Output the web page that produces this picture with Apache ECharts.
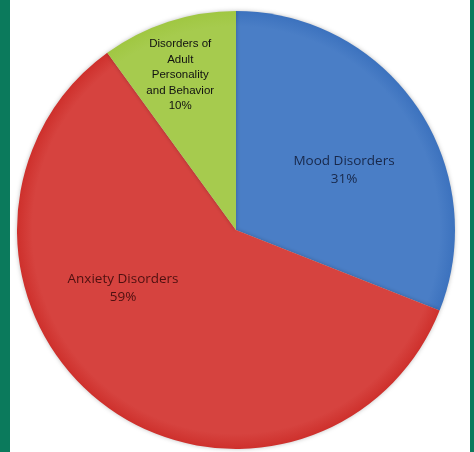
<!DOCTYPE html>
<html>
<head>
<meta charset="utf-8">
<script src="https://cdn.jsdelivr.net/npm/echarts@6/dist/echarts.min.js"></script>
<style>
  html, body { margin: 0; padding: 0; background: #0b7a5c; }
  #wrap { position: absolute; left: 10px; top: 0; width: 460px; height: 452px; background: #ffffff; }
  #chart { width: 460px; height: 452px; }
</style>
</head>
<body>
<div id="wrap"><div id="chart"></div></div>
<script>
const categories = ['Mood Disorders', 'Anxiety Disorders', 'Disorders of\nAdult\nPersonality\nand Behavior'];
const values = [31, 59, 10];
const colors = ['#4a7ec6', '#d6433f', '#a6cb4e'];
const labelColors = ['#18284a', '#4e1010', '#111111'];

const chart = echarts.init(document.getElementById('chart'), null, { renderer: 'canvas' });

const labelShift = [[15, 3], [-44, -31], [-21, -48]];
const CX = 226, CY = 230, R = 219;

const data = categories.map((name, i) => ({
  name: name,
  value: values[i],
  itemStyle: {
    color: {
      type: 'radial', x: CX, y: CY, r: R, global: true,
      colorStops: [
        { offset: 0, color: colors[i] },
        { offset: 0.93, color: colors[i] },
        { offset: 1, color: echarts.color.modifyHSL(colors[i], null, null, i === 2 ? 0.52 : 0.49) }
      ]
    }
  },
  label: i === 2 ? {
    fontFamily: "'Liberation Sans', Arial, sans-serif",
    fontSize: 11.5,
    lineHeight: 15.5,
    color: labelColors[i]
  } : {
    fontFamily: "'Open Sans', 'Noto Sans', sans-serif",
    fontSize: 13.5,
    lineHeight: 18,
    color: labelColors[i]
  }
}));

chart.setOption({
  animation: false,
  series: [{
    type: 'pie',
    center: [CX, CY],
    radius: [0, R],
    startAngle: 90,
    clockwise: true,
    data: data,
    itemStyle: {
      shadowBlur: 4,
      shadowColor: 'rgba(0,0,0,0.25)'
    },
    label: {
      show: true,
      position: 'inside',
      formatter: function (p) { return p.name + '\n' + p.value + '%'; },
      align: 'center'
    },
    labelLine: { show: false },
    labelLayout: function (params) {
      const s = labelShift[params.dataIndex];
      return { dx: s[0], dy: s[1] };
    }
  }]
});
</script>
</body>
</html>
